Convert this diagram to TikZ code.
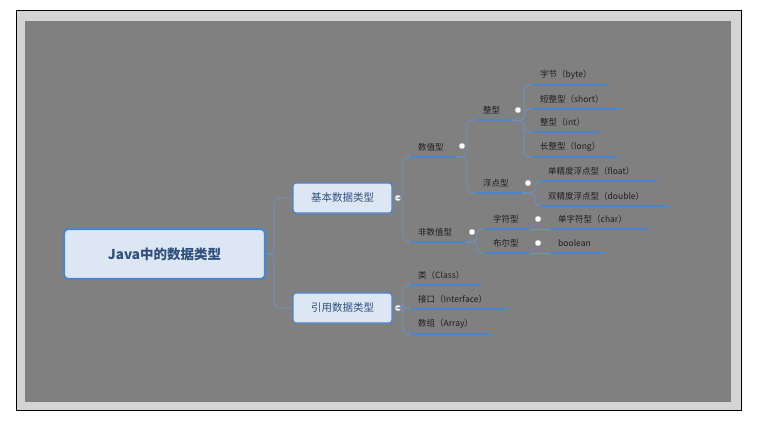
\documentclass[tikz,border=0pt]{standalone}
\usepackage{fontspec}
\setmainfont{Noto Sans CJK SC}
\definecolor{lb}{HTML}{4A86D0}
\definecolor{cn}{HTML}{6A95CC}
\definecolor{bf}{HTML}{DDE7F3}
\definecolor{tx}{HTML}{1E1E1E}
\definecolor{rt}{HTML}{2F4F7F}
\tikzset{
  leaftext/.style={anchor=west,inner sep=0pt,text=tx,font=\fontsize{8.5}{10}\selectfont},
  uline/.style={draw=lb,line width=1.8pt},
  conn/.style={draw=cn,line width=0.7pt,rounded corners=5pt},
  dotc/.style={circle,fill=white,draw=gray!70,line width=0.4pt,minimum size=6pt,inner sep=0pt},
  l1box/.style={draw=lb,line width=1.3pt,fill=bf,rounded corners=3pt,minimum width=99pt,minimum height=30pt,text=rt,font=\fontsize{10.5}{12}\selectfont},
}
\newcommand{\leafitem}[5]{%
  \node[leaftext] (#1) at (#2,#3) {#5};
  \coordinate (#1s) at (#2-8,#3+10);
  \coordinate (#1e) at (#4,#3+10);
  \draw[uline] (#1s) -- (#1e);}
\begin{document}
\begin{tikzpicture}[x=1pt,y=-1pt]
\useasboundingbox (0,0) rectangle (759,422);
\fill[white] (0,0) rectangle (759,422);
\draw[black,line width=1pt,fill={rgb,255:red,212;green,212;blue,212}] (16,11) rectangle (741,410);
\fill[gray] (25,21) rectangle (731,402);
% root
\node[draw=lb,line width=2.2pt,fill=bf,rounded corners=4pt,minimum width=201pt,minimum height=50pt,text=rt,font=\bfseries\fontsize{13.5}{16}\selectfont] (root) at (164.5,254) {Java中的数据类型};
\node[l1box] (basic) at (342.5,198) {基本数据类型};
\node[l1box] (ref) at (342.5,308) {引用数据类型};
\draw[conn] (root.east) -- (274,254) |- (basic.west);
\draw[conn] (root.east) -- (274,254) |- (ref.west);
\node[dotc] (bd) at (398,198) {};
\node[dotc] (rd) at (398,308) {};
% level 2
\leafitem{num}{418}{147}{456}{数值型}
\leafitem{non}{418}{232}{466}{非数值型}
\node[dotc] (numd) at (462,146) {};
\node[dotc] (nond) at (472,232) {};
\draw[conn] (bd) -- (403,198) |- (nums);
\draw[conn] (bd) -- (403,198) |- (nons);
% under 数值型
\leafitem{int}{483}{110}{512}{整型}
\leafitem{flt}{483}{183}{522}{浮点型}
\node[dotc] (intd) at (518,110) {};
\node[dotc] (fltd) at (528,183) {};
\draw[conn] (nume) -- (467,157) |- (ints);
\draw[conn] (nume) -- (467,157) |- (flts);
% ints
\leafitem{by}{540}{75}{607}{字节（byte）}
\leafitem{sh}{540}{99}{621}{短整型（short）}
\leafitem{in}{540}{122}{599}{整型（int）}
\leafitem{lo}{540}{147}{617}{长整型（long）}
\draw[conn] (inte) -- (524,121) |- (bys);
\draw[conn] (inte) -- (524,121) |- (shs);
\draw[conn] (inte) -- (524,121) |- (ins);
\draw[conn] (inte) -- (524,121) |- (los);
% floats
\leafitem{fl}{548}{171}{657}{单精度浮点型（float）}
\leafitem{db}{548}{196}{668}{双精度浮点型（double）}
\draw[conn] (flte) -- (535,193) |- (fls);
\draw[conn] (flte) -- (535,193) |- (dbs);
% non-numeric
\leafitem{ch}{493}{219}{530}{字符型}
\leafitem{bo}{493}{243}{530}{布尔型}
\draw[conn] (none) -- (477,242) |- (chs);
\draw[conn] (none) -- (477,242) |- (bos);
\node[dotc] (chd) at (538,219) {};
\node[dotc] (bod) at (538,243) {};
\leafitem{cc}{558}{219}{647}{单字符型（char）}
\leafitem{bb}{558}{243}{605}{boolean}
\draw[conn] (che) -- (ccs);
\draw[conn] (boe) -- (bbs);
% reference
\leafitem{cl}{418}{275}{480}{类（Class）}
\leafitem{if}{418}{299}{508}{接口（Interface）}
\leafitem{ar}{418}{324}{490}{数组（Array）}
\draw[conn] (rd) -- (403,308) |- (cls);
\draw[conn] (rd) -- (403,308) |- (ifs);
\draw[conn] (rd) -- (403,308) |- (ars);
\end{tikzpicture}
\end{document}
